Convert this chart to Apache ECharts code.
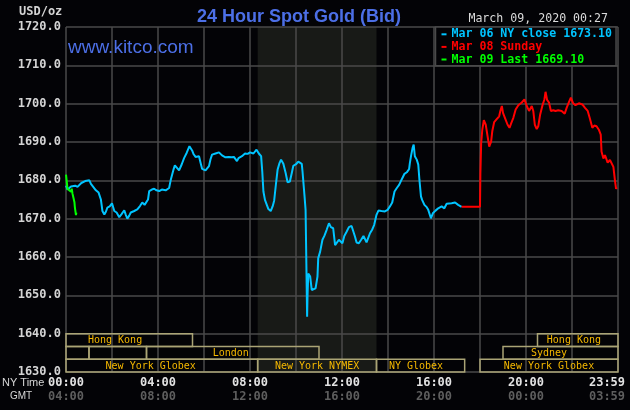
<!DOCTYPE html>
<html>
<head>
<meta charset="utf-8">
<script src="https://cdn.jsdelivr.net/npm/echarts@6/dist/echarts.min.js"></script>
<style>
html,body{margin:0;padding:0;background:#030306;}
#chart{width:630px;height:410px;}
</style>
</head>
<body>
<div id="chart"></div>
<script>
// ---- data (minutes after 00:00 NY time, USD/oz) ----
var nyTickLabels = ['00:00','04:00','08:00','12:00','16:00','20:00','23:59'];
var gmtTickLabels = ['04:00','08:00','12:00','16:00','20:00','00:00','03:59'];

var seriesNames = ['Mar 06 NY close 1673.10', 'Mar 08 Sunday', 'Mar 09 Last 1669.10'];

var mar06 = [[0,1678.6],[4,1677.6],[9,1677.8],[13,1678.4],[17,1678.2],[24,1678.6],[30,1678.3],[35,1678.6],[40,1679.3],[43,1679.6],[50,1679.8],[55,1679.6],[61,1680.0],[65,1679.1],[70,1678.6],[78,1677.4],[85,1676.8],[91,1675.0],[95,1672.0],[100,1671.1],[104,1671.8],[108,1672.9],[114,1673.2],[120,1674.0],[126,1672.0],[132,1671.6],[139,1670.4],[145,1671.2],[152,1672.2],[156,1671.0],[160,1670.0],[165,1670.8],[169,1671.6],[178,1672.0],[186,1672.4],[193,1673.3],[199,1674.2],[205,1673.6],[210,1673.1],[214,1675.0],[217,1677.2],[224,1677.6],[230,1677.8],[236,1677.4],[243,1677.2],[250,1677.6],[260,1677.4],[265,1677.6],[269,1678.0],[273,1680.0],[277,1681.5],[281,1683.0],[284,1683.9],[290,1683.2],[295,1682.6],[302,1684.2],[308,1685.8],[315,1687.2],[322,1688.9],[329,1687.8],[333,1686.8],[338,1686.1],[343,1686.5],[347,1686.3],[351,1684.6],[355,1683.0],[360,1682.6],[364,1682.6],[373,1683.7],[377,1685.5],[381,1686.7],[390,1687.0],[399,1687.3],[403,1687.0],[407,1686.5],[416,1686.0],[425,1686.1],[432,1686.0],[438,1686.1],[446,1685.0],[450,1685.8],[459,1686.3],[467,1687.0],[474,1686.9],[480,1687.3],[489,1687.0],[497,1688.0],[503,1687.0],[509,1686.3],[512,1682.3],[515,1677.1],[519,1674.9],[523,1674.5],[528,1672.5],[534,1672.0],[539,1673.2],[543,1674.7],[548,1679.3],[552,1682.8],[557,1684.5],[561,1685.4],[567,1684.3],[573,1681.9],[578,1679.5],[584,1679.7],[589,1681.9],[593,1683.8],[600,1684.2],[606,1684.9],[610,1685.2],[615,1684.3],[617,1682.3],[622,1676.2],[625,1672.3],[627,1658.4],[629,1644.4],[630,1649.6],[632,1655.7],[634,1656.2],[637,1654.9],[641,1651.4],[645,1650.9],[651,1651.8],[656,1654.9],[658,1659.7],[663,1661.4],[669,1664.5],[674,1665.5],[680,1667.1],[686,1668.8],[691,1667.8],[697,1667.5],[702,1663.1],[706,1663.6],[712,1664.5],[717,1664.9],[721,1663.6],[726,1665.5],[732,1666.6],[738,1667.8],[745,1668.1],[750,1667.8],[754,1665.3],[758,1663.8],[764,1663.6],[770,1664.5],[776,1665.5],[780,1665.2],[784,1663.8],[789,1664.0],[793,1666.2],[799,1667.2],[804,1668.4],[810,1671.0],[815,1672.1],[823,1672.0],[832,1671.9],[839,1672.3],[845,1673.2],[851,1674.2],[857,1677.1],[863,1678.0],[869,1678.8],[876,1680.3],[883,1681.7],[889,1682.1],[895,1682.9],[897,1684.5],[900,1686.3],[904,1688.4],[907,1689.3],[910,1686.3],[915,1685.4],[919,1684.1],[922,1680.1],[926,1675.8],[929,1674.9],[935,1673.6],[941,1673.0],[945,1672.3],[952,1670.1],[957,1671.4],[964,1672.1],[971,1672.7],[980,1673.2],[987,1672.7],[993,1673.9],[1006,1674.0],[1015,1674.2],[1023,1673.6],[1032,1673.1]];

var mar08 = [[1032,1673.1],[1080,1673.1],[1081,1681.8],[1083,1689.7],[1086,1693.2],[1090,1695.7],[1095,1694.5],[1099,1695.0],[1102,1690.1],[1104,1688.8],[1109,1690.1],[1112,1692.8],[1117,1695.2],[1123,1695.9],[1130,1696.7],[1133,1698.1],[1137,1699.4],[1140,1697.6],[1145,1696.3],[1152,1694.5],[1157,1693.7],[1161,1694.8],[1167,1696.3],[1173,1698.5],[1180,1699.6],[1189,1700.3],[1196,1701.1],[1202,1699.4],[1208,1698.1],[1215,1699.4],[1219,1698.1],[1223,1694.5],[1228,1693.4],[1232,1694.1],[1237,1697.2],[1243,1699.6],[1248,1701.1],[1251,1703.1],[1255,1701.0],[1260,1700.3],[1265,1698.1],[1271,1698.3],[1277,1698.1],[1284,1698.3],[1293,1698.1],[1301,1697.4],[1306,1698.9],[1312,1700.4],[1317,1701.6],[1323,1700.1],[1329,1699.6],[1338,1700.1],[1347,1699.8],[1354,1698.9],[1361,1698.1],[1367,1696.0],[1373,1693.7],[1378,1694.3],[1384,1694.1],[1390,1693.2],[1395,1691.9],[1397,1687.5],[1402,1685.7],[1406,1686.6],[1413,1684.6],[1419,1685.3],[1424,1685.5],[1428,1683.5],[1432,1680.0],[1435,1677.8],[1437,1678.2]];

var mar09 = [[0,1681.5],[2,1679.6],[4,1677.8],[9,1678.3],[13,1677.0],[15,1677.8],[17,1676.5],[20,1675.2],[22,1674.3],[23,1673.1],[26,1670.9],[27,1671.6]];

// NYMEX pit session (minutes)
var nymexSession = [500, 810];

// trading sessions: [start, end, row, labelAt]
var sessions = [[0,330,0,128],[1230,1440,0,1325],[0,60,1,-1],[60,210,1,-1],[210,660,1,430],[1140,1440,1,1260],[0,500,2,221],[500,810,2,655],[810,1040,2,913],[1080,1440,2,1260]];
var sessionNames = ['Hong Kong','Hong Kong','','','London','Sydney','New York Globex','New York NYMEX','NY Globex','New York Globex'];

var rowTops = [1640, 1636.6667, 1633.3333, 1630];

var chart = echarts.init(document.getElementById('chart'), null, {renderer:'canvas'});
var mono = 'DejaVu Sans Mono';
var colors = ['#00c4ff', '#ff0000', '#00ff00'];

var option = {
  backgroundColor: '#030306',
  animation: false,
  title: {
    text: '24 Hour Spot Gold (Bid)',
    left: 294, top: 3, textAlign: 'center',
    textStyle: {color:'#4c6fe6', fontFamily:'Liberation Sans', fontSize:18, fontWeight:'bold'}
  },
  legend: {
    orient: 'vertical', left: 435.5, top: 27,
    padding: [1, 4, 0, 6], itemGap: 0,
    itemWidth: 5, itemHeight: 2, icon: 'rect',
    backgroundColor: '#030306', borderColor: '#4a4a4a', borderWidth: 1.5,
    textStyle: {fontFamily: mono, fontSize: 11.6, fontWeight: 'bold', lineHeight: 12.6, padding:[0,0,0,0]},
    data: seriesNames.map(function(n, i){ return {name:n, textStyle:{color:colors[i]}, itemStyle:{color:colors[i]}}; })
  },
  grid: {left:66, right:12, top:27, bottom:38, containLabel:false, outerBoundsMode:'none'},
  xAxis: {
    type:'value', min:0, max:1440, interval:120,
    axisLine:{show:false}, axisTick:{show:false},
    splitLine:{show:true, lineStyle:{color:'#4a4a4a', width:1.5}},
    axisLabel:{
      margin: 4, showMaxLabel: true, showMinLabel: true,
      formatter: function(v){
        if (v % 240 !== 0) return '';
        var i = v / 240;
        if (i === nyTickLabels.length - 1) return '{c|' + nyTickLabels[i] + '}\n{d|' + gmtTickLabels[i] + '}';
        return '{a|' + nyTickLabels[i] + '}\n{b|' + gmtTickLabels[i] + '}';
      },
      rich: {
        a:{fontFamily:mono, fontSize:12, fontWeight:'bold', color:'#e2e2e2', lineHeight:14},
        b:{fontFamily:mono, fontSize:12, fontWeight:'bold', color:'#5e5e5e', lineHeight:14},
        c:{fontFamily:mono, fontSize:12, fontWeight:'bold', color:'#e2e2e2', lineHeight:14, padding:[0,22,0,0]},
        d:{fontFamily:mono, fontSize:12, fontWeight:'bold', color:'#5e5e5e', lineHeight:14, padding:[0,22,0,0]}
      }
    }
  },
  yAxis: {
    type:'value', min:1630, max:1720, interval:10,
    axisLine:{show:false}, axisTick:{show:false},
    splitLine:{show:true, lineStyle:{color:'#4a4a4a', width:1.5}},
    axisLabel:{margin:5, fontFamily:mono, fontSize:12, fontWeight:'bold', color:'#d4d4d4',
      formatter:function(v){ return v.toFixed(1); }}
  },
  graphic: [
    {type:'text', left:19, top:6, z:10, style:{text:'USD/oz', fill:'#d4d4d4', font:'bold 12px "DejaVu Sans Mono"'}},
    {type:'text', right:22, top:13, z:10, style:{text:'March 09, 2020 00:27', fill:'#dadada', font:'11.6px "DejaVu Sans Mono"'}},
    {type:'text', left:68, top:38, z:10, style:{text:'www.kitco.com', fill:'#4c6fe6', font:'19px "Liberation Sans"'}},
    {type:'text', left:2, top:377, z:10, style:{text:'NY Time', fill:'#d6d6d6', font:'11px "Liberation Sans"'}},
    {type:'text', left:10, top:391, z:10, style:{text:'GMT', fill:'#d6d6d6', font:'10px "Liberation Sans"'}}
  ],
  series: [
    {
      type:'custom', name:'nymex-shade', z:-1, silent:true,
      data:[nymexSession],
      renderItem:function(params, api){
        var p1 = api.coord([api.value(0), 1720]);
        var p2 = api.coord([api.value(1), 1630]);
        return {type:'rect', shape:{x:p1[0], y:p1[1], width:p2[0]-p1[0], height:p2[1]-p1[1]}, style:{fill:'#181a17'}};
      }
    },
    {name:seriesNames[0], type:'line', data:mar06, showSymbol:false, z:3,
      lineStyle:{color:colors[0], width:2}, itemStyle:{color:colors[0]}},
    {name:seriesNames[1], type:'line', data:mar08, showSymbol:false, z:3,
      lineStyle:{color:colors[1], width:2}, itemStyle:{color:colors[1]}},
    {name:seriesNames[2], type:'line', data:mar09, showSymbol:false, z:4,
      lineStyle:{color:colors[2], width:2}, itemStyle:{color:colors[2]}},
    {
      type:'custom', name:'sessions', z:5, silent:true,
      data:sessions,
      renderItem:function(params, api){
        var row = api.value(2);
        var p1 = api.coord([api.value(0), rowTops[row]]);
        var p2 = api.coord([api.value(1), rowTops[row+1]]);
        var children = [{type:'rect', shape:{x:p1[0], y:p1[1], width:p2[0]-p1[0], height:p2[1]-p1[1]},
          style:{fill:null, stroke:'#aaa475', lineWidth:1.5}}];
        var name = sessionNames[params.dataIndex];
        if (name && api.value(3) >= 0) {
          var pc = api.coord([api.value(3), (rowTops[row] + rowTops[row+1]) / 2]);
          children.push({type:'text', x:pc[0], y:pc[1]+0.5,
            style:{text:name, fill:'#f5b800', font:'10px "DejaVu Sans Mono"', align:'center', verticalAlign:'middle'}});
        }
        return {type:'group', children:children};
      }
    }
  ]
};
chart.setOption(option);
</script>
</body>
</html>
